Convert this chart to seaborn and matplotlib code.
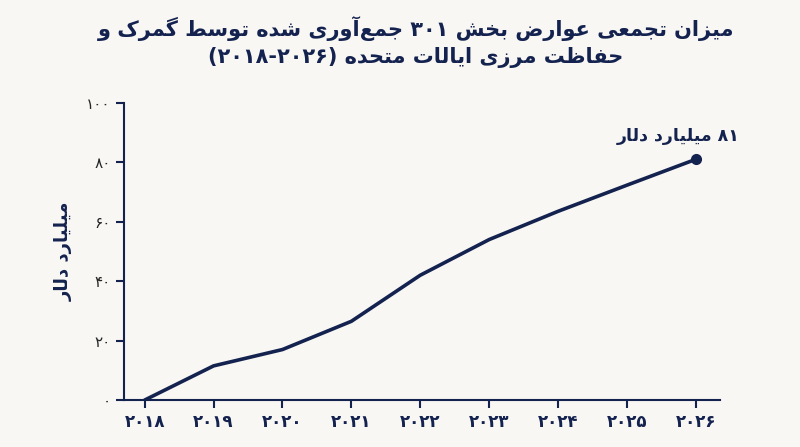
import re, unicodedata
import matplotlib
matplotlib.use("Agg")
import matplotlib.pyplot as plt
import seaborn as sns
import pandas as pd

years = [2018, 2019, 2020, 2021, 2022, 2023, 2024, 2025, 2026]
values = [0, 11.5, 17, 26.5, 42, 54, 63.5, 72.3, 81]
yticks = [0, 20, 40, 60, 80, 100]
title_l1 = "میزان تجمعی عوارض بخش ۳۰۱ جمع‌آوری شده توسط گمرک و"
title_l2 = "حفاظت مرزی ایالات متحده (۲۰۱۸-۲۰۲۶)"
ylabel = "میلیارد دلار"
annot = "۸۱ میلیارد دلار"

FA = "۰۱۲۳۴۵۶۷۸۹"
def fa(n): return "".join(FA[int(c)] for c in str(n))

RIGHT_ONLY = set("اآدذرزژوأإؤة")
def is_ar(c): return '\u0620' <= c <= '\u06FF' and c not in FA
def form(c, f):
    try:
        return unicodedata.lookup(unicodedata.name(c) + " " + f + " FORM")
    except KeyError:
        return c
def shape(s):
    out = []
    for i, c in enumerate(s):
        if not is_ar(c):
            if c != '\u200c': out.append(c)
            continue
        p = s[i-1] if i > 0 else ''
        n = s[i+1] if i+1 < len(s) else ''
        jp = p and is_ar(p) and p not in RIGHT_ONLY
        jn = n and is_ar(n) and c not in RIGHT_ONLY
        f = "MEDIAL" if jp and jn else "FINAL" if jp else "INITIAL" if jn else "ISOLATED"
        out.append(form(c, f))
    return "".join(out)
MIR = {"(": ")", ")": "("}
def rtl(s):
    s = shape(s)
    toks = re.findall(r"[۰-۹0-9]+(?:-[۰-۹0-9]+)*|[^۰-۹0-9]+", s)
    res = []
    for t in reversed(toks):
        if re.match(r"[۰-۹0-9]", t): res.append(t)
        else: res.append("".join(MIR.get(ch, ch) for ch in reversed(t)))
    return "".join(res)

bg = "#f8f7f3"
navy = "#14224f"
sns.set_theme(style="white")
plt.rcParams['font.family'] = ['DejaVu Sans']
fig, ax = plt.subplots(figsize=(8, 4.47), dpi=100)
fig.patch.set_facecolor(bg); ax.set_facecolor(bg)
df = pd.DataFrame({"year": years, "value": values})
sns.lineplot(data=df, x="year", y="value", ax=ax, color=navy, lw=2.6)
ax.plot(years[-1], values[-1], "o", color=navy, ms=7)
ax.annotate(rtl(annot), (years[-1], values[-1]), xytext=(2025.75, 87), ha="center",
            fontsize=12.5, color=navy, fontweight="bold")
ax.set_xlim(2017.7, 2026.35); ax.set_ylim(0, 100)
ax.set_xticks(years); ax.set_xticklabels([fa(y) for y in years], fontsize=12, color=navy, fontweight="bold")
ax.set_yticks(yticks); ax.set_yticklabels([fa(v) for v in yticks], fontsize=12, color=navy, fontweight="bold")
ax.set_xlabel(""); ax.set_ylabel(rtl(ylabel), fontsize=13, color=navy, fontweight="bold", labelpad=10)
for s in ["top", "right"]: ax.spines[s].set_visible(False)
for s in ["left", "bottom"]:
    ax.spines[s].set_color(navy); ax.spines[s].set_linewidth(1.5)
ax.spines["left"].set_position(("data", 2017.7))
ax.tick_params(axis="both", length=6, width=1.5, color=navy, direction="out", left=True, bottom=True)
fig.text(0.52, 0.965, rtl(title_l1) + "\n" + rtl(title_l2), ha="center", va="top",
         fontsize=15, fontweight="bold", color=navy, linespacing=1.4)
fig.subplots_adjust(left=0.155, right=0.9, top=0.77, bottom=0.105)
fig.savefig("out.png", dpi=100, facecolor=bg)
